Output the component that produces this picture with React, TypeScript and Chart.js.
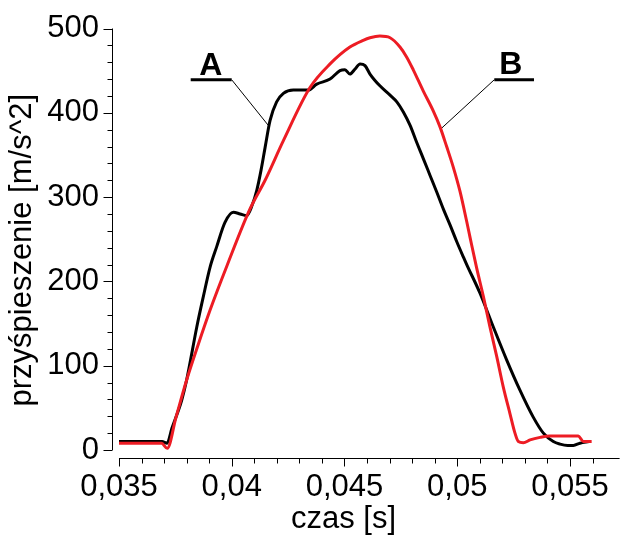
import React, { useEffect, useRef } from 'react';
import { Chart, registerables } from 'chart.js';

Chart.register(...registerables);

// ---- data (time [s], acceleration [m/s^2]) ----
const curveATime = [
  0.035, 0.03655, 0.03691, 0.03713, 0.03735, 0.03778, 0.038, 0.03845, 0.03874, 0.03904,
  0.03933, 0.0397, 0.04007, 0.04037, 0.04066, 0.0409, 0.04111, 0.0413, 0.04148, 0.0417,
  0.04199, 0.04229, 0.04273, 0.0434, 0.04377, 0.04436, 0.0448, 0.04502, 0.04524, 0.04547,
  0.04569, 0.04591, 0.04613, 0.04657, 0.04702, 0.04732, 0.04761, 0.04791, 0.0482, 0.04849,
  0.04879, 0.04909, 0.04938, 0.04968, 0.04998, 0.05027, 0.05042, 0.05101, 0.0516, 0.05219,
  0.05278, 0.05337, 0.05382, 0.05426, 0.05456, 0.0549, 0.05515, 0.05544, 0.05584,
];
const curveAAccel = [
  10, 10, 10, 8, 26, 59, 83, 146, 182, 217,
  241, 270, 282, 280, 278, 290, 308, 332, 359, 391,
  413, 423, 427, 427, 434, 440, 450, 451, 446, 452,
  458, 456, 446, 432, 421, 413, 401, 385, 365, 346,
  326, 306, 286, 267, 247, 229, 220, 186, 146, 107,
  71, 39, 20, 10, 7, 5.5, 5.5, 8, 10,
];
const curveBTime = [
  0.035, 0.03689, 0.03714, 0.03753, 0.038, 0.0385, 0.03904, 0.03978, 0.04081, 0.04148,
  0.04229, 0.04347, 0.04436, 0.04524, 0.04583, 0.04613, 0.04657, 0.04702, 0.04746, 0.04776,
  0.04805, 0.04849, 0.04894, 0.04924, 0.04953, 0.04983, 0.05012, 0.05042, 0.05057, 0.05086,
  0.05116, 0.05145, 0.05175, 0.05204, 0.05234, 0.05256, 0.05271, 0.05293, 0.05323, 0.05367,
  0.05411, 0.05537, 0.05559, 0.05596,
];
const curveBAccel = [
  8, 8, 2, 39, 83, 124, 166, 218, 286, 320,
  367, 430, 458, 478, 486, 489, 491, 489, 478, 466,
  451, 426, 402, 383, 360, 335, 307, 271, 252, 216,
  182, 146, 111, 75, 43, 20, 10, 8.6, 12, 15,
  16.6, 16.6, 10, 10,
];

// ---- ticks ----
const xTickValues = [0.035, 0.04, 0.045, 0.05, 0.055];
const xTickLabels = ['0,035', '0,04', '0,045', '0,05', '0,055'];
const xMinorTickValues = [
  0.036, 0.037, 0.038, 0.039, 0.041, 0.042, 0.043, 0.044, 0.046, 0.047,
  0.048, 0.049, 0.051, 0.052, 0.053, 0.054, 0.056,
];
const yTickValues = [0, 100, 200, 300, 400, 500];
const yTickLabels = ['0', '100', '200', '300', '400', '500'];
const yMinorTickValues = [
  20, 40, 60, 80, 120, 140, 160, 180, 220, 240, 260, 280, 320, 340, 360, 380, 420, 440, 460, 480,
];

const xTitle = 'czas [s]';
const yTitle = 'przyśpieszenie [m/s^2]';

// ---- annotation labels (data coordinates) ----
const markerTexts = ['A', 'B'];
const markerTextX = [0.039075, 0.052379];
const markerTextY = [445.1, 445.5];
const underlineStartX = [0.03818, 0.051643];
const underlineEndX = [0.039998, 0.053404];
const underlineY = [439.2, 439.2];
const leaderTipX = [0.041621, 0.049235];
const leaderTipY = [385.1, 380];

// ---- scale ranges ----
const X_MIN = 0.03469;
const X_MAX = 0.055222;
const Y_MIN = -26.07;
const Y_MAX = 500;
const X_AXIS_AT = -8.9; // value on y where the (detached) x axis is drawn
const X_AXIS_END = 0.0572;

const FONT = '"Liberation Sans", Arial, Helvetica, sans-serif';
const RED = '#ED1C24';

const detachedAxes = {
  id: 'detachedAxes',
  afterDraw(chart: any) {
    const { ctx, scales } = chart;
    const xs = scales.x;
    const ys = scales.y;
    ctx.save();
    ctx.strokeStyle = '#000';
    ctx.lineWidth = 1;
    // y axis
    const ax = Math.round(xs.getPixelForValue(X_MIN)) + 0.5;
    ctx.beginPath();
    ctx.moveTo(ax, ys.getPixelForValue(yTickValues[0]));
    ctx.lineTo(ax, ys.getPixelForValue(yTickValues[yTickValues.length - 1]));
    ctx.stroke();
    yTickValues.forEach((v) => {
      const y = Math.round(ys.getPixelForValue(v)) + 0.5;
      ctx.beginPath();
      ctx.moveTo(ax - 9, y);
      ctx.lineTo(ax, y);
      ctx.stroke();
    });
    yMinorTickValues.forEach((v) => {
      const y = Math.round(ys.getPixelForValue(v)) + 0.5;
      ctx.beginPath();
      ctx.moveTo(ax - 5, y);
      ctx.lineTo(ax, y);
      ctx.stroke();
    });
    // x axis
    const ay = Math.round(ys.getPixelForValue(X_AXIS_AT)) + 0.5;
    ctx.beginPath();
    ctx.moveTo(xs.getPixelForValue(xTickValues[0]), ay);
    ctx.lineTo(xs.getPixelForValue(X_AXIS_END), ay);
    ctx.stroke();
    xTickValues.forEach((v) => {
      const x = Math.round(xs.getPixelForValue(v)) + 0.5;
      ctx.beginPath();
      ctx.moveTo(x, ay);
      ctx.lineTo(x, ay + 8);
      ctx.stroke();
    });
    xMinorTickValues.forEach((v) => {
      const x = Math.round(xs.getPixelForValue(v)) + 0.5;
      ctx.beginPath();
      ctx.moveTo(x, ay);
      ctx.lineTo(x, ay + 5);
      ctx.stroke();
    });
    // marker letters
    ctx.fillStyle = '#000';
    ctx.font = `bold 32px ${FONT}`;
    ctx.textAlign = 'center';
    ctx.textBaseline = 'alphabetic';
    markerTexts.forEach((t, i) => {
      ctx.fillText(t, xs.getPixelForValue(markerTextX[i]), ys.getPixelForValue(markerTextY[i]));
    });
    ctx.restore();
  },
};

export default function App() {
  const ref = useRef<HTMLCanvasElement>(null);

  useEffect(() => {
    const curveA = curveATime.map((t, i) => ({ x: t, y: curveAAccel[i] }));
    const curveB = curveBTime.map((t, i) => ({ x: t, y: curveBAccel[i] }));
    const annotationSets: any[] = [];
    markerTexts.forEach((t, i) => {
      annotationSets.push({
        label: `${t}-underline`,
        data: [
          { x: underlineStartX[i], y: underlineY[i] },
          { x: underlineEndX[i], y: underlineY[i] },
        ],
        borderColor: '#000',
        borderWidth: 3,
        borderCapStyle: 'butt',
        pointRadius: 0,
        order: 3,
      });
      const startX = i === 0 ? underlineEndX[i] : underlineStartX[i];
      annotationSets.push({
        label: `${t}-leader`,
        data: [
          { x: startX, y: underlineY[i] },
          { x: leaderTipX[i], y: leaderTipY[i] },
        ],
        borderColor: '#000',
        borderWidth: 1,
        pointRadius: 0,
        order: 3,
      });
    });

    const tickFont = { family: FONT, size: 31, lineHeight: 1 };
    const chart = new Chart(ref.current as HTMLCanvasElement, {
      type: 'line',
      data: {
        datasets: [
          {
            label: 'B',
            data: curveB,
            borderColor: RED,
            borderWidth: 3,
            pointRadius: 0,
            cubicInterpolationMode: 'monotone',
            borderJoinStyle: 'round',
            clip: false,
            order: 0,
          } as any,
          {
            label: 'A',
            data: curveA,
            borderColor: '#000',
            borderWidth: 3,
            pointRadius: 0,
            cubicInterpolationMode: 'monotone',
            borderJoinStyle: 'round',
            clip: false,
            order: 1,
          } as any,
          ...annotationSets,
        ],
      },
      options: {
        animation: false,
        responsive: false,
        devicePixelRatio: 1,
        layout: { padding: { left: 0, top: 28, right: 46, bottom: 0 } },
        plugins: {
          legend: { display: false },
          tooltip: { enabled: false },
        },
        scales: {
          x: {
            type: 'linear',
            position: 'bottom',
            grid: { display: false, drawTicks: false },
            border: { display: false },
            afterBuildTicks: (s: any) => {
              // range set here (not as user bounds) so the curves beyond it are still drawn
              s.min = X_MIN;
              s.max = X_MAX;
              s.ticks = xTickValues.map((v) => ({ value: v }));
            },
            afterFit: (s: any) => {
              s.height = 67;
            },
            ticks: {
              autoSkip: false,
              maxRotation: 0,
              padding: 0,
              color: '#000',
              font: tickFont,
              callback: (_v: any, i: number) => xTickLabels[i],
            },
            title: {
              display: true,
              text: xTitle,
              color: '#000',
              font: { family: FONT, size: 31, lineHeight: 1 },
              padding: { top: 0, bottom: 3.6 },
            },
          },
          y: {
            type: 'linear',
            position: 'left',
            min: Y_MIN,
            max: Y_MAX,
            grid: { display: false, drawTicks: false },
            border: { display: false },
            afterBuildTicks: (s: any) => {
              s.ticks = yTickValues.map((v) => ({ value: v }));
            },
            afterFit: (s: any) => {
              s.width = 112;
            },
            ticks: {
              autoSkip: false,
              padding: 13,
              color: '#000',
              font: tickFont,
              callback: (_v: any, i: number) => yTickLabels[i],
            },
            title: {
              display: true,
              text: yTitle,
              color: '#000',
              font: { family: FONT, size: 31, lineHeight: 1 },
              padding: { top: 7.4, bottom: 0 },
            },
          },
        },
      } as any,
      plugins: [detachedAxes],
    });
    return () => chart.destroy();
  }, []);

  return (
    <div style={{ position: 'fixed', left: 0, top: 0, width: 621, height: 539, background: '#fff' }}>
      <canvas ref={ref} width={621} height={539} style={{ display: 'block', width: 621, height: 539 }} />
    </div>
  );
}
